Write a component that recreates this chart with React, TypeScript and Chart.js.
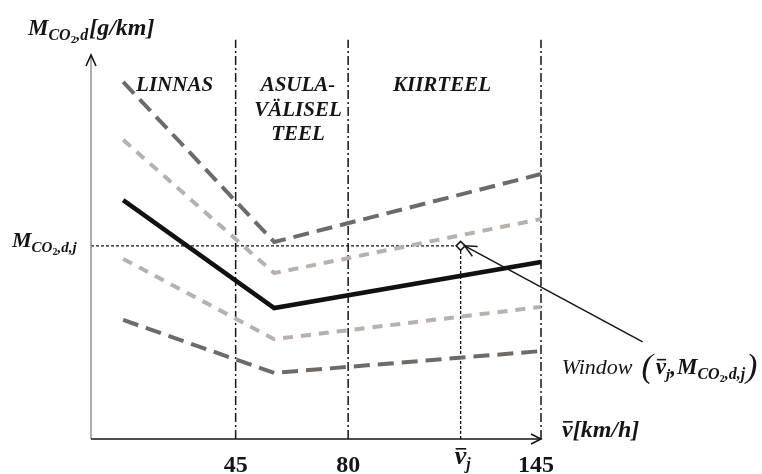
import React, { useEffect, useRef } from 'react';
import { Chart, registerables } from 'chart.js';

Chart.register(...registerables);

// ---- data (schematic units) ----
const curveX = [10, 57, 140];
const upperDark = [93.0, 51.3, 69.0];
const upperLight = [77.9, 43.2, 57.3];
const mainCurve = [62.2, 34.1, 46.1];
const lowerLight = [46.9, 26.0, 34.4];
const lowerDark = [31.0, 17.2, 22.9];
const boundaryX = [45, 80, 140];
const boundaryTop = 104;
const tickPositions = [45, 80, 115, 140];
const tickLabels = ['45', '80', 'v̄j', '145'];
const vj = 115;
const mj = 50.3;
const regionLabels = [
  { x: 26, lines: ['LINNAS'] },
  { x: 64.4, lines: ['ASULA-', 'VÄLISEL', 'TEEL'] },
  { x: 109.2, lines: ['KIIRTEEL'] },
];
const regionTopY = 90.5;

const SERIF = '"Liberation Serif", "DejaVu Serif", serif';
const f = (size: number, style = 'bold italic') => `${style} ${size}px ${SERIF}`;
const INK = '#151515';

type Part = { t: string; font: string; dy?: number; over?: number; gap?: number };

function partsWidth(ctx: CanvasRenderingContext2D, parts: Part[]) {
  let w = 0;
  for (const p of parts) {
    ctx.font = p.font;
    w += ctx.measureText(p.t).width + (p.gap || 0);
  }
  return w;
}

function drawParts(ctx: CanvasRenderingContext2D, x: number, y: number, parts: Part[]) {
  for (const p of parts) {
    ctx.font = p.font;
    const w = ctx.measureText(p.t).width;
    ctx.fillText(p.t, x, y + (p.dy || 0));
    if (p.over) {
      ctx.fillRect(x + 1, y - p.over, w - 1, 1.6);
    }
    x += w + (p.gap || 0);
  }
  return x;
}

const line = (xs: number[], ys: number[]) => xs.map((x, i) => ({ x, y: ys[i] }));

const decorPlugin = {
  id: 'decor',
  afterDatasetsDraw(chart: any) {
    const ctx: CanvasRenderingContext2D = chart.ctx;
    const xs = chart.scales.x;
    const ys = chart.scales.y;
    const X = (v: number) => xs.getPixelForValue(v);
    const Y = (v: number) => ys.getPixelForValue(v);
    ctx.save();
    ctx.fillStyle = INK;
    ctx.strokeStyle = INK;

    // axes
    const x0 = X(0), y0 = Y(0), xEnd = X(140), yEnd = Y(100);
    ctx.lineWidth = 1.2;
    ctx.strokeStyle = '#777';
    ctx.beginPath();
    ctx.moveTo(x0, y0);
    ctx.lineTo(x0, yEnd + 1);
    ctx.stroke();
    ctx.strokeStyle = INK;
    ctx.lineWidth = 1.5;
    ctx.beginPath();
    ctx.moveTo(x0, y0);
    ctx.lineTo(xEnd, y0);
    ctx.stroke();
    ctx.lineWidth = 1.6;
    ctx.beginPath();
    ctx.moveTo(xEnd - 10, y0 - 5);
    ctx.lineTo(xEnd, y0);
    ctx.lineTo(xEnd - 10, y0 + 5);
    ctx.stroke();
    ctx.beginPath();
    ctx.moveTo(x0 - 5, yEnd + 11);
    ctx.lineTo(x0, yEnd);
    ctx.lineTo(x0 + 5, yEnd + 11);
    ctx.stroke();

    // tick labels
    ctx.textBaseline = 'alphabetic';
    ctx.textAlign = 'left';
    tickPositions.forEach((pos, i) => {
      const lbl = tickLabels[i];
      const cx = X(pos);
      if (lbl === 'v̄j') {
        const parts: Part[] = [
          { t: 'v', font: f(26), over: 16 },
          { t: 'j', font: f(16), dy: 5 },
        ];
        const w = partsWidth(ctx, parts);
        drawParts(ctx, cx - w / 2 + 2, y0 + 25, parts);
      } else {
        ctx.font = f(24, 'bold');
        const w = ctx.measureText(lbl).width;
        const dx = lbl === '145' ? -5 : 0;
        ctx.fillText(lbl, cx - w / 2 + dx, y0 + 33);
      }
    });

    // x axis title
    drawParts(ctx, xEnd + 21, y0 - 2, [
      { t: 'v', font: f(24), over: 16 },
      { t: '[km/h]', font: f(24) },
    ]);

    // y axis title
    drawParts(ctx, 28, yEnd - 20, [
      { t: 'M', font: f(23) },
      { t: 'CO', font: f(16), dy: 5 },
      { t: '2', font: f(11, 'bold'), dy: 8 },
      { t: ',d', font: f(16), dy: 5, gap: 1 },
      { t: '[g/km]', font: f(24) },
    ]);

    // M_j label
    drawParts(ctx, 12, Y(mj) + 1, [
      { t: 'M', font: f(22) },
      { t: 'CO', font: f(15), dy: 5 },
      { t: '2', font: f(10, 'bold'), dy: 8 },
      { t: ',d,j', font: f(15), dy: 5 },
    ]);

    // region labels
    regionLabels.forEach((r) => {
      ctx.font = f(21);
      r.lines.forEach((t, k) => {
        const w = ctx.measureText(t).width;
        ctx.fillText(t, X(r.x) - w / 2, Y(regionTopY) + k * 24.5);
      });
    });

    // window arrow
    const tx = X(vj) + 4, ty = Y(mj);
    const ax = tx + 178, ay = ty + 96;
    ctx.lineWidth = 1.5;
    ctx.beginPath();
    ctx.moveTo(ax, ay);
    ctx.lineTo(tx, ty);
    ctx.stroke();
    const ang = Math.atan2(ay - ty, ax - tx);
    ctx.beginPath();
    ctx.moveTo(tx + 13 * Math.cos(ang - 0.44), ty + 13 * Math.sin(ang - 0.44));
    ctx.lineTo(tx, ty);
    ctx.lineTo(tx + 13 * Math.cos(ang + 0.44), ty + 13 * Math.sin(ang + 0.44));
    ctx.stroke();

    // window label
    const wy = ay + 32;
    let px = drawParts(ctx, ax - 81, wy, [{ t: 'Window', font: f(22, 'italic'), gap: 9 }]);
    px = drawParts(ctx, px, wy + 3, [{ t: '(', font: f(34, 'italic'), gap: 3 }]);
    px = drawParts(ctx, px, wy, [
      { t: 'v', font: f(23), over: 15 },
      { t: 'j', font: f(15), dy: 5 },
      { t: ',', font: f(23), gap: 1 },
      { t: 'M', font: f(23) },
      { t: 'CO', font: f(16), dy: 5 },
      { t: '2', font: f(10, 'bold'), dy: 8 },
      { t: ',d,j', font: f(16), dy: 5, gap: 1 },
    ]);
    drawParts(ctx, px, wy + 3, [{ t: ')', font: f(34, 'italic') }]);

    ctx.restore();
  },
};

export default function App() {
  const canvasRef = useRef<HTMLCanvasElement>(null);

  useEffect(() => {
    const canvas = canvasRef.current;
    if (!canvas) return;
    const base = { pointRadius: 0, fill: false, tension: 0, clip: false as any };
    const darkDash = [16, 8];
    const lightDash = [10, 8];
    const datasets: any[] = [
      {
        ...base,
        data: [{ x: vj, y: mj }],
        showLine: false,
        pointRadius: 4.5,
        pointStyle: 'rectRot',
        pointBackgroundColor: '#fff',
        pointBorderColor: INK,
        pointBorderWidth: 1.5,
      },
      { ...base, data: line(curveX, mainCurve), borderColor: '#111', borderWidth: 4.5 },
      { ...base, data: line(curveX, upperDark), borderColor: '#6e6a68', borderWidth: 4, borderDash: darkDash },
      { ...base, data: line(curveX, lowerDark), borderColor: '#6e6a68', borderWidth: 4, borderDash: darkDash },
      { ...base, data: line(curveX, upperLight), borderColor: '#b7b0ad', borderWidth: 4, borderDash: lightDash },
      { ...base, data: line(curveX, lowerLight), borderColor: '#b7b0ad', borderWidth: 4, borderDash: lightDash },
      { ...base, data: [{ x: 0, y: mj }, { x: vj, y: mj }], borderColor: INK, borderWidth: 1.3, borderDash: [3, 2] },
      { ...base, data: [{ x: vj, y: 0 }, { x: vj, y: mj }], borderColor: INK, borderWidth: 1.3, borderDash: [3, 2] },
      ...boundaryX.map((bx) => ({
        ...base,
        data: [{ x: bx, y: 0 }, { x: bx, y: boundaryTop }],
        borderColor: INK,
        borderWidth: 1.5,
        borderDash: [9, 3, 2, 3],
      })),
    ];

    const chart = new Chart(canvas, {
      type: 'line',
      data: { datasets },
      options: {
        responsive: false,
        animation: false,
        devicePixelRatio: 1,
        events: [],
        layout: { padding: { left: 91, right: 221, top: 55, bottom: 35 } },
        scales: {
          x: { type: 'linear', min: 0, max: 140, display: false },
          y: { type: 'linear', min: 0, max: 100, display: false },
        },
        plugins: { legend: { display: false }, tooltip: { enabled: false }, title: { display: false } },
      },
      plugins: [decorPlugin],
    } as any);
    return () => chart.destroy();
  }, []);

  return (
    <div style={{ position: 'absolute', left: 0, top: 0, width: 762, height: 474, background: '#fff' }}>
      <canvas ref={canvasRef} width={762} height={474} style={{ display: 'block', width: 762, height: 474 }} />
    </div>
  );
}
